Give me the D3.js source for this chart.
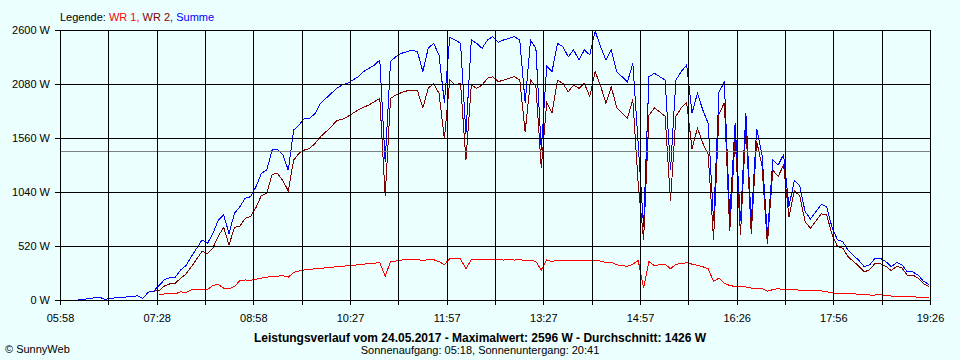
<!DOCTYPE html>
<html><head><meta charset="utf-8">
<script src="https://cdn.jsdelivr.net/npm/d3@7"></script>
<style>
html,body{margin:0;padding:0;background:#ebffff;}
svg{display:block;font-family:"Liberation Sans",Arial,sans-serif;}
</style></head><body>
<svg id="chart" width="960" height="360"></svg>
<script>
// samples every 5 minutes starting 06:00
const sampleStartMinute = 360;
const sampleStepMinutes = 5;

// WR 1 (red)
const wr1 = [null,null,null,null,null,null,null,null,null,null,null,null,null,null,null,null,null,null,
55,58,58,58,80,70,100,100,102,100,140,150,115,108,130,185,193,190,200,210,220,225,230,
235,220,265,280,290,295,300,305,310,315,320,325,330,335,338,345,350,355,360,230,368,375,385,388,388,390,380,390,388,370,340,400,395,395,300,390,392,388,390,392,388,
385,388,385,388,380,385,370,290,385,370,385,380,385,380,382,378,385,380,375,360,365,340,330,325,345,380,120,370,330,340,345,300,345,350,360,345,335,320,300,180,210,
160,140,130,130,125,115,115,110,85,100,110,100,100,98,95,95,92,90,88,80,68,64,62,64,60,55,50,48,48,50,45,38,35,32,32,30,28,22,20];

// WR 2 (dark red)
const wr2 = [null,null,null,5,8,12,22,26,5,18,20,24,30,35,40,15,75,85,
90,135,155,160,210,250,320,395,470,445,500,615,700,530,700,712,785,805,890,1005,1030,1210,1220,
1150,1050,1348,1412,1444,1460,1509,1573,1620,1669,1727,1740,1766,1798,1830,1856,1878,1910,1942,1000,1942,1974,1997,2013,2022,2016,1850,2038,2086,1990,1550,2118,2070,2086,1350,2070,2038,2070,2135,2151,2102,
2118,2135,2150,2118,1620,2118,2060,1270,1900,1800,2118,2086,2006,2070,2038,2086,1958,2200,2065,1894,2054,1850,1800,1750,1930,1120,580,1780,1850,1810,1770,950,1770,1850,1900,1455,1655,1510,1400,580,1790,
1900,660,1560,630,1670,635,1530,1290,535,1250,1190,1300,800,1050,1005,755,690,760,830,820,632,516,498,416,370,325,270,292,352,350,325,282,325,308,238,240,212,158,130];

// Summe (blue)
const summe = [null,null,null,5,8,12,22,26,5,18,20,24,30,35,40,15,75,85,
140,195,215,220,290,330,417,500,578,546,640,770,819,640,835,898,979,995,1091,1220,1252,1444,1450,
1400,1250,1637,1685,1750,1750,1798,1894,1942,1990,2038,2070,2086,2118,2151,2200,2231,2263,2311,1330,2300,2343,2375,2390,2408,2390,2200,2424,2472,2360,1900,2530,2504,2472,1600,2504,2472,2424,2504,2536,2480,
2504,2520,2536,2504,1900,2504,2420,1440,2250,2200,2472,2440,2343,2408,2311,2408,2360,2590,2440,2311,2408,2200,2150,2100,2279,1500,700,2150,2183,2151,2118,1250,2118,2200,2263,1800,1990,1830,1701,760,2000,
2100,800,1700,760,1800,750,1650,1400,620,1350,1300,1400,900,1150,1100,850,780,850,920,900,700,580,560,480,430,380,320,340,400,400,370,320,360,340,270,270,240,180,150];

const yTicks = [0, 520, 1040, 1560, 2080, 2600];
const xGridLabels = ["05:58","","07:28","","08:58","","10:27","","11:57","","13:27","","14:57","","16:26","","17:56","","19:26"];
const axisStartMinute = 358, axisEndMinute = 1166;
const averageValue = 1426;
const legendParts = [["Legende: ","#000000"],["WR 1,","#ff0000"],[" WR 2,","#800000"],[" Summe","#0000ff"]];
const titleText = "Leistungsverlauf vom 24.05.2017 - Maximalwert: 2596 W - Durchschnitt: 1426 W";
const subtitleText = "Sonnenaufgang: 05:18, Sonnenuntergang: 20:41";
const copyrightText = "\u00A9 SunnyWeb";

const svg = d3.select("#chart");
svg.append("rect").attr("width",960).attr("height",360).attr("fill","#ebffff");

const x = d3.scaleLinear().domain([axisStartMinute, axisEndMinute]).range([60, 930]);
const y = d3.scaleLinear().domain([0, 2600]).range([300, 30]);

const toPts = arr => arr.map((v,i) => ({t: sampleStartMinute + i*sampleStepMinutes, v}));
const line = d3.line().defined(d => d.v != null).x(d => x(d.t)).y(d => y(d.v));

const series = [[wr1,"#ff0000"],[wr2,"#800000"],[summe,"#0000ff"]];
series.forEach(([arr,col]) => {
  svg.append("path").datum(toPts(arr)).attr("d", line)
    .attr("fill","none").attr("stroke",col).attr("stroke-width",1)
    .attr("shape-rendering","crispEdges");
});

// average line
svg.append("line").attr("x1",60).attr("x2",930).attr("y1",y(averageValue)).attr("y2",y(averageValue))
  .attr("stroke","#808080").attr("stroke-width",1).attr("shape-rendering","crispEdges");

// grid / axes
const gridTimes = xGridLabels.map((_,k) => axisStartMinute + k*(axisEndMinute-axisStartMinute)/(xGridLabels.length-1));
const gx = svg.append("g").attr("transform","translate(0,30)")
  .call(d3.axisBottom(x).tickValues(gridTimes).tickSize(275).tickPadding(9).tickFormat((d,i)=>xGridLabels[i]));
const gy = svg.append("g").attr("transform","translate(930,0)")
  .call(d3.axisLeft(y).tickValues(yTicks).tickSize(875).tickPadding(5).tickFormat(d => d + " W"));
[gx,gy].forEach(g => {
  g.select(".domain").remove();
  g.attr("font-size",11).attr("font-family","'Liberation Sans',Arial,sans-serif").attr("color","#000");
  g.selectAll("line").attr("stroke","#000").attr("shape-rendering","crispEdges");
  g.selectAll("text").attr("fill","#000");
});

// legend
const lg = svg.append("text").attr("x",60).attr("y",21).attr("font-size",11);
legendParts.forEach(([t,c]) => lg.append("tspan").attr("fill",c).text(t));

svg.append("text").attr("x",480).attr("y",342).attr("text-anchor","middle")
  .attr("font-size",12).attr("font-weight","bold").attr("fill","#000").text(titleText);
svg.append("text").attr("x",480).attr("y",354).attr("text-anchor","middle")
  .attr("font-size",11).attr("fill","#000").text(subtitleText);
svg.append("text").attr("x",5).attr("y",353).attr("font-size",11).attr("fill","#000").text(copyrightText);
</script>
</body></html>
